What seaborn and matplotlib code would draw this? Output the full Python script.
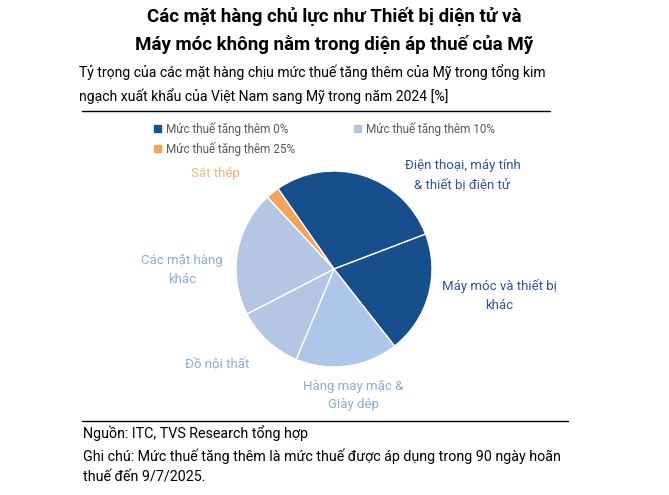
import matplotlib
matplotlib.use("Agg")
import matplotlib.pyplot as plt
import seaborn as sns
from matplotlib.patches import Patch
from matplotlib.lines import Line2D

sns.set_theme(style="white")
plt.rcParams['font.family'] = ['Roboto', 'DejaVu Sans']

# data (% of exports to the US in 2024)
items = ['Điện thoại, máy tính\n& thiết bị điện tử', 'Máy móc và thiết bị\nkhác',
         'Hàng may mặc &\nGiày dép', 'Đồ nội thất', 'Các mặt hàng\nkhác', 'Sắt thép']
shares = [28.9, 20.2, 16.9, 11.1, 20.7, 2.2]
tariff = ['0%', '0%', '10%', '10%', '10%', '25%']
legend_labels = ['Mức thuế tăng thêm 0%', 'Mức thuế tăng thêm 25%', 'Mức thuế tăng thêm 10%']

dark = '#174e8c'
light = '#b4c6e4'
orange = '#f4a25e'
slice_colors = [dark, dark, '#adc6e9', light, light, orange]
text_colors = ['#2f5597', '#2f5597', '#8eaadb', '#8eaadb', '#8eaadb', '#f4b183']
# label positions in pie radius units
label_xy = [(1.31, 0.96), (1.69, -0.27), (0.20, -1.29), (-1.19, -0.96), (-1.55, -0.01), (-1.21, 0.98)]

fig = plt.figure(figsize=(6.69, 4.95), dpi=100)
ax = fig.add_axes([(334 - 200) / 669, (495 - 269 - 150) / 495, 400 / 669, 300 / 495])
ax.pie(shares, colors=slice_colors, startangle=124.9, counterclock=False,
       wedgeprops=dict(edgecolor='white', linewidth=1.0))
ax.set_xlim(-200 / 98, 200 / 98)
ax.set_ylim(-150 / 98, 150 / 98)
ax.axis('off')
for lab, (x, y), c in zip(items, label_xy, text_colors):
    ax.text(x, y, lab, ha='center', va='center', color=c, fontsize=9.5, linespacing=1.55)

# titles
fig.text(0.5, 1 - 16 / 495, 'Các mặt hàng chủ lực như Thiết bị diện tử và',
         ha='center', va='center', fontsize=13.5, fontweight='bold', color='black')
fig.text(0.5, 1 - 44 / 495, 'Máy móc không nằm trong diện áp thuế của Mỹ',
         ha='center', va='center', fontsize=13.5, fontweight='bold', color='black')
fig.text(79 / 669, 1 - 72 / 495, 'Tỷ trọng của các mặt hàng chịu mức thuế tăng thêm của Mỹ trong tổng kim',
         ha='left', va='center', fontsize=10.1, color='black')
fig.text(79 / 669, 1 - 96 / 495, 'ngạch xuất khẩu của Việt Nam sang Mỹ trong năm 2024 [%]',
         ha='left', va='center', fontsize=10.1, color='black')
fig.add_artist(Line2D([82 / 669, 550 / 669], [1 - 111 / 495, 1 - 111 / 495], color='black', lw=1))

# legend
handles = [Patch(color=dark), Patch(color=orange), Patch(color=light)]
fig.legend(handles, legend_labels, ncol=2, loc='upper left', bbox_to_anchor=(148 / 669, 1 - 116 / 495),
           frameon=False, fontsize=8.5, labelcolor='#595959', handlelength=0.6, handleheight=0.6,
           handletextpad=0.4, columnspacing=5.0, labelspacing=0.5, borderpad=0)

# footer
fig.add_artist(Line2D([82 / 669, 568 / 669], [1 - 421 / 495, 1 - 421 / 495], color='black', lw=1))
fig.text(83 / 669, 1 - 433 / 495, 'Nguồn: ITC, TVS Research tổng hợp', ha='left', va='center', fontsize=10.3, color='black')
fig.text(83 / 669, 1 - 456 / 495, 'Ghi chú: Mức thuế tăng thêm là mức thuế được áp dụng trong 90 ngày hoãn',
         ha='left', va='center', fontsize=10.3, color='black')
fig.text(83 / 669, 1 - 478 / 495, 'thuế đến 9/7/2025.', ha='left', va='center', fontsize=10.3, color='black')

fig.savefig('out.png', dpi=100)
